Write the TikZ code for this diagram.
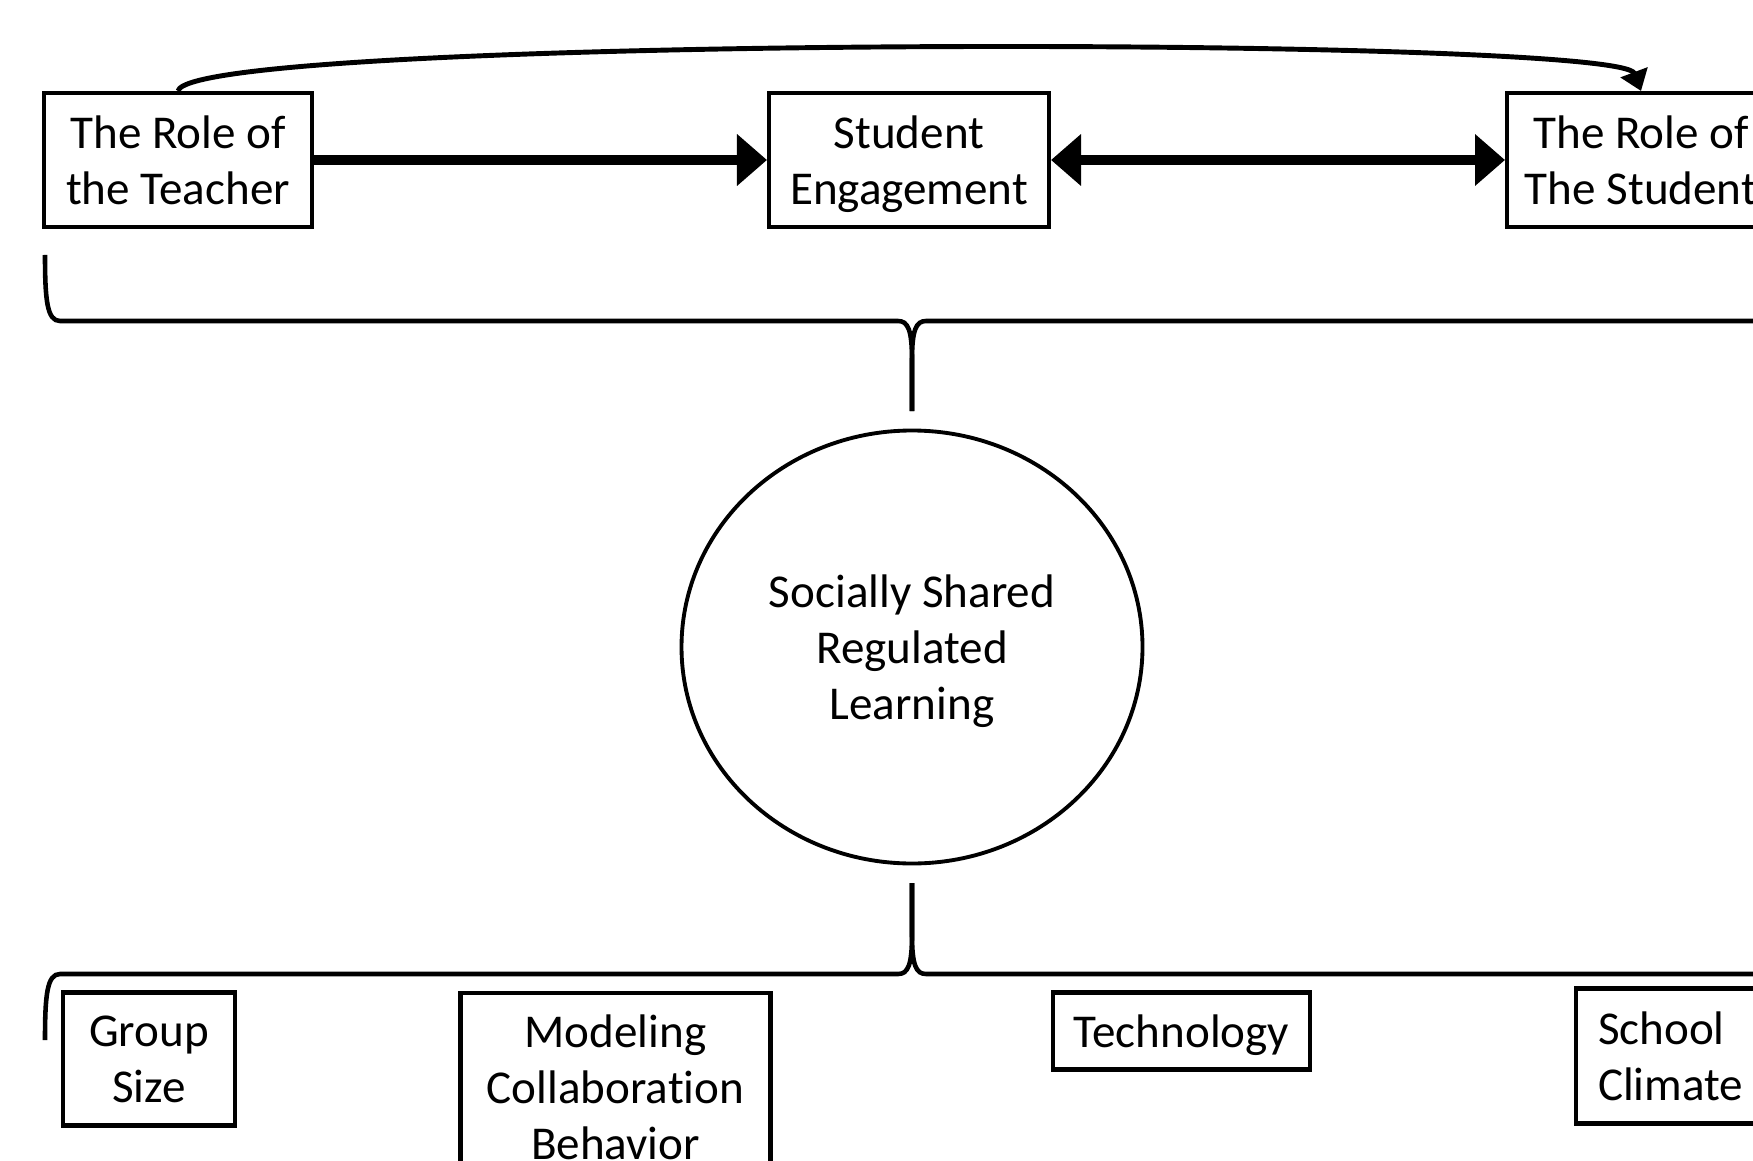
\documentclass[tikz,border=0pt]{standalone}
\usepackage{fontspec}
\setmainfont{Carlito}[Ligatures=NoCommon]
\usetikzlibrary{arrows.meta,shapes.geometric}

\tikzset{
  box/.style={draw, line width=1.15pt, align=center, inner sep=0pt, text depth=0pt,
    font=\fontsize{13.4}{15.9}\selectfont},
  flow/.style={line width=2.8pt, -{Triangle[length=0.3cm,width=0.5cm]}},
  curly/.style={line width=1.3pt}
}

\begin{document}
\begin{tikzpicture}
\useasboundingbox (0,0) rectangle (17.53,-11.61);
\clip (0,0) rectangle (17.53,-11.61);

% top row
\node[box, minimum width=2.68cm, minimum height=1.34cm] (teacher) at (1.78,-1.60) {The Role of\\the Teacher};
\node[box, minimum width=2.80cm, minimum height=1.34cm] (engage) at (9.09,-1.60) {Student\\Engagement};
\node[box, minimum width=2.68cm, minimum height=1.34cm] (student) at (16.41,-1.60) {The Role of\\The Student};

\draw[flow] (teacher) -- (engage);
\draw[flow, {Triangle[length=0.3cm,width=0.5cm]}-{Triangle[length=0.3cm,width=0.5cm]}] (engage) -- (student);

\draw[line width=1.4pt, -{Triangle[length=0.2cm,width=0.28cm]}]
  (teacher.north) .. controls (1.90,-0.35) and (16.20,-0.35) .. (student.north);

% upper brace
\coordinate (uptip) at (9.12,-4.11);
\draw[curly] (0.45,-2.55) .. controls (0.45,-3.00) and (0.47,-3.21) .. (0.60,-3.21)
  -- (8.98,-3.21) .. controls (9.08,-3.21) and (9.12,-3.30) .. (9.12,-3.60) -- (uptip);
\draw[curly] (uptip) -- (9.12,-3.60) .. controls (9.12,-3.30) and (9.16,-3.21) .. (9.26,-3.21)
  -- (17.64,-3.21) .. controls (17.77,-3.21) and (17.79,-3.00) .. (17.79,-2.55);

% centre
\node[box, ellipse, line width=1.1pt, minimum width=4.61cm, minimum height=4.33cm] (ssrl)
  at (9.12,-6.47) {Socially Shared\\Regulated\\Learning};

% lower brace
\coordinate (lowtip) at (9.12,-8.83);
\draw[curly] (0.45,-10.40) .. controls (0.45,-9.95) and (0.47,-9.74) .. (0.60,-9.74)
  -- (8.98,-9.74) .. controls (9.08,-9.74) and (9.12,-9.65) .. (9.12,-9.35) -- (lowtip);
\draw[curly] (lowtip) -- (9.12,-9.35) .. controls (9.12,-9.65) and (9.16,-9.74) .. (9.26,-9.74)
  -- (17.64,-9.74) .. controls (17.77,-9.74) and (17.79,-9.95) .. (17.79,-10.40);

% bottom row
\node[box, minimum width=1.72cm, minimum height=1.33cm] (size) at (1.49,-10.59) {Group\\Size};
\node[box, minimum width=3.10cm, minimum height=1.88cm] (model) at (6.155,-10.87) {Modeling\\Collaboration\\Behavior};
\node[box, minimum width=2.57cm, minimum height=0.77cm] (tech) at (11.815,-10.31) {Technology};
\node[box, align=left, inner xsep=0.22cm, minimum height=1.35cm, anchor=west] (climate) at (15.74,-10.56) {School\\Climate};

\end{tikzpicture}
\end{document}
